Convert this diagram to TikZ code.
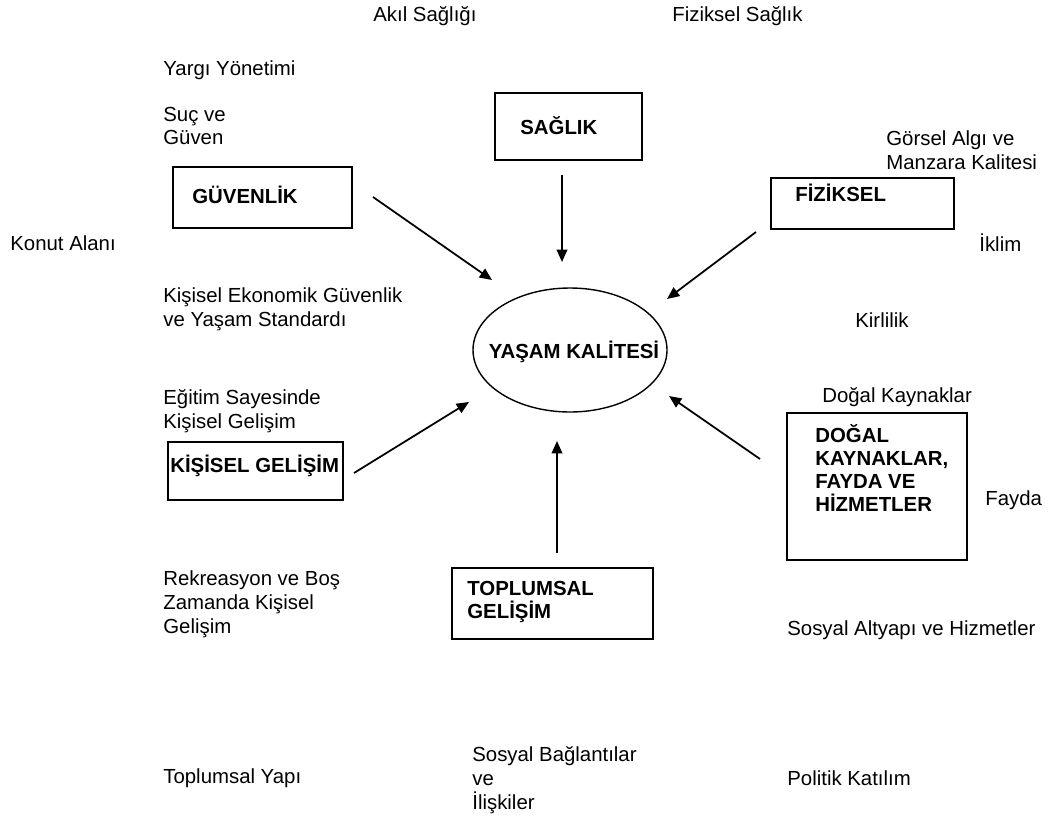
\documentclass[tikz,border=0pt]{standalone}
\usepackage{fontspec}
\setmainfont{Liberation Sans}
\usetikzlibrary{arrows.meta,shapes.geometric}
\begin{document}
\begin{tikzpicture}[x=0.02cm,y=-0.02cm,
  lbl/.style={anchor=west,inner sep=0pt,align=left,font=\fontsize{11.6}{13.6}\selectfont},
  blbl/.style={lbl,font=\fontsize{11.6}{13.1}\selectfont\bfseries},
  box/.style={draw,line width=0.8pt,inner sep=0pt},
  arr/.style={line width=1pt,-{Triangle[length=7pt,width=6pt]}}]
\useasboundingbox (0,0) rectangle (1050,821);
% boxes
\node[box,minimum width=147*0.02cm,minimum height=67*0.02cm] (saglik) at (568.5,126.5) {};
\node[box,minimum width=179*0.02cm,minimum height=61*0.02cm] (guvenlik) at (262.5,197.5) {};
\node[box,minimum width=183*0.02cm,minimum height=51*0.02cm] (fiziksel) at (862.5,203.5) {};
\node[box,minimum width=175*0.02cm,minimum height=58*0.02cm] (kisisel) at (255.5,471) {};
\node[box,minimum width=180*0.02cm,minimum height=147*0.02cm] (dogal) at (877,486.5) {};
\node[box,minimum width=201*0.02cm,minimum height=71*0.02cm] (toplumsal) at (552.5,603.5) {};
\node[draw,line width=0.8pt,ellipse,minimum width=194*0.02cm,minimum height=124*0.02cm,inner sep=0pt] (yasam) at (570,350) {};
% box texts
\node[blbl] (tsaglik) at (520,126) {SAĞLIK};
\node[blbl] (tguvenlik) at (192,195) {GÜVENLİK};
\node[blbl] (tfiziksel) at (795,193) {FİZİKSEL};
\node[blbl] (tkisisel) at (170,466) {KİŞİSEL GELİŞİM};
\node[blbl] (tdogal) at (815,468) {DOĞAL\\KAYNAKLAR,\\FAYDA VE\\HİZMETLER};
\node[blbl] (ttoplumsal) at (467,602) {TOPLUMSAL\\GELİŞİM};
\node[blbl,anchor=center] (tyasam) at (574,352) {YAŞAM KALİTESİ};
% labels
\node[lbl] (l1) at (373,16) {Akıl Sağlığı};
\node[lbl] (l2) at (672,16) {Fiziksel Sağlık};
\node[lbl] (l3) at (163,70) {Yargı Yönetimi};
\node[lbl] (l4) at (163,126) {Suç ve\\Güven};
\node[lbl] (l5) at (886,150) {Görsel Algı ve\\Manzara Kalitesi};
\node[lbl] (l6) at (10,243) {Konut Alanı};
\node[lbl] (l7) at (979,243) {İklim};
\node[lbl] (l8) at (163,309) {Kişisel Ekonomik Güvenlik\\ve Yaşam Standardı};
\node[lbl] (l9) at (855,320) {Kirlilik};
\node[lbl] (l10) at (163,411) {Eğitim Sayesinde\\Kişisel Gelişim};
\node[lbl] (l11) at (822,397) {Doğal Kaynaklar};
\node[lbl] (l12) at (985,500) {Fayda};
\node[lbl] (l13) at (163,604) {Rekreasyon ve Boş\\Zamanda Kişisel\\Gelişim};
\node[lbl] (l14) at (787,630) {Sosyal Altyapı ve Hizmetler};
\node[lbl] (l15) at (163,778) {Toplumsal Yapı};
\node[lbl] (l16) at (472,780) {Sosyal Bağlantılar\\ve\\İlişkiler};
\node[lbl] (l17) at (787,778) {Politik Katılım};
% arrow ends
\coordinate (s1) at (562,175); \coordinate (e1) at (562,262);
\coordinate (s2) at (373,197); \coordinate (e2) at (492,280);
\coordinate (s3) at (756,232); \coordinate (e3) at (667,299);
\coordinate (s4) at (354,473); \coordinate (e4) at (469,402);
\coordinate (s5) at (760,459); \coordinate (e5) at (669,396);
\coordinate (s6) at (557,553); \coordinate (e6) at (557,441);
\foreach \i in {1,...,6} {\draw[arr] (s\i) -- (e\i);}
\end{tikzpicture}
\end{document}
